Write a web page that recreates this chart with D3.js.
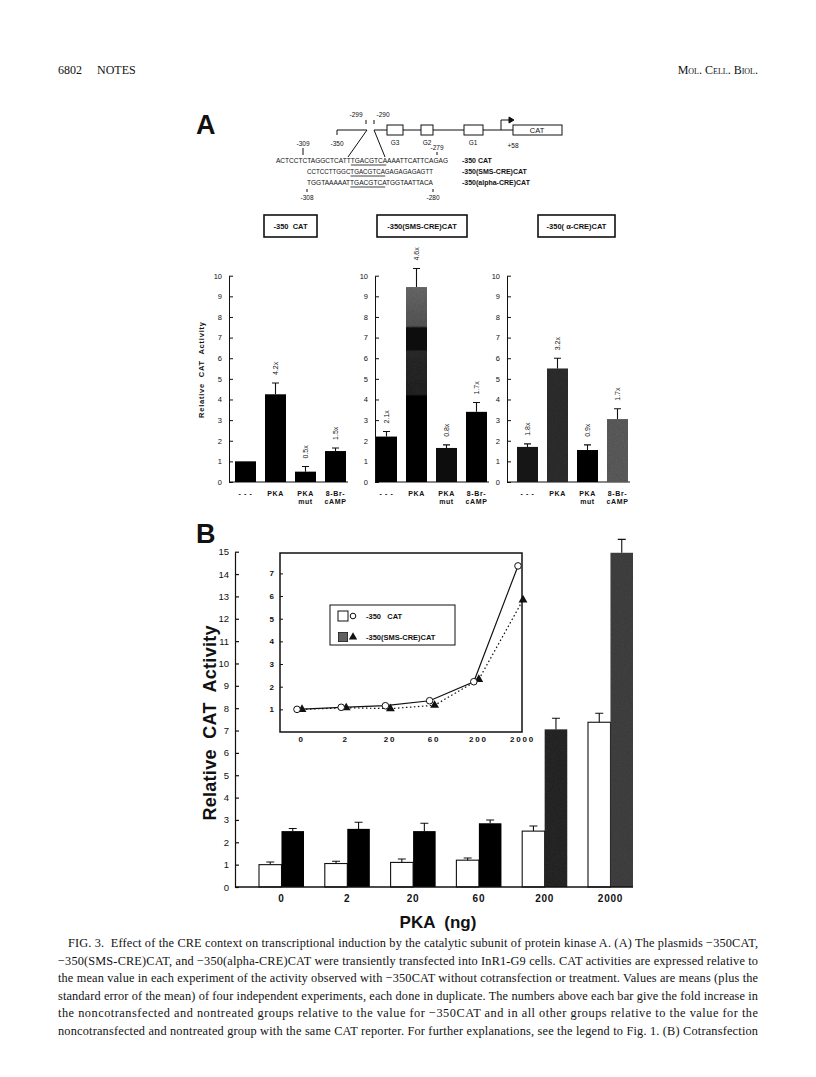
<!DOCTYPE html>
<html>
<head>
<meta charset="utf-8">
<script src="https://cdn.jsdelivr.net/npm/d3@7"></script>
<style>
body{margin:0;background:#fff}
text{font-family:"Liberation Sans",Arial,sans-serif;fill:#111}
</style>
</head>
<body>
<svg id="fig"></svg>
<script>
// ---- data ----
const aCategories = [["- - -"], ["PKA"], ["PKA", "mut"], ["8-Br-", "cAMP"]];
const a350Values = [1.0, 4.25, 0.5, 1.5];
const a350Errors = [null, 4.8, 0.75, 1.65];
const a350Folds = ["", "4.2x", "0.5x", "1.5x"];
const smsValues = [2.2, 9.45, 1.65, 3.4];
const smsErrors = [2.45, 10.35, 1.8, 3.85];
const smsFolds = ["2.1x", "4.6x", "0.8x", "1.7x"];
const alphaValues = [1.7, 5.5, 1.55, 3.05];
const alphaErrors = [1.85, 6.0, 1.8, 3.55];
const alphaFolds = ["1.8x", "3.2x", "0.9x", "1.7x"];
const aTicks = [0, 1, 2, 3, 4, 5, 6, 7, 8, 9, 10];

const pkaDoses = ["0", "2", "20", "60", "200", "2000"];
const catValues = [1.0, 1.05, 1.1, 1.2, 2.5, 7.37];
const catErrors = [1.12, 1.15, 1.25, 1.3, 2.73, 7.77];
const smsCatValues = [2.5, 2.6, 2.5, 2.85, 7.05, 14.95];
const smsCatErrors = [2.62, 2.9, 2.85, 3.0, 7.55, 15.55];
const bTicks = d3.range(0, 16);

const insetCat = [1.0, 1.09, 1.16, 1.38, 2.22, 7.33];
const insetSms = [1.0, 1.07, 1.03, 1.18, 2.32, 5.83];
const insetTicks = [1, 2, 3, 4, 5, 6, 7];

const captionLines = [
  "FIG. 3.  Effect of the CRE context on transcriptional induction by the catalytic subunit of protein kinase A. (A) The plasmids \u2212350CAT,",
  "\u2212350(SMS-CRE)CAT, and \u2212350(alpha-CRE)CAT were transiently transfected into InR1-G9 cells. CAT activities are expressed relative to",
  "the mean value in each experiment of the activity observed with \u2212350CAT without cotransfection or treatment. Values are means (plus the",
  "standard error of the mean) of four independent experiments, each done in duplicate. The numbers above each bar give the fold increase in",
  "the noncotransfected and nontreated groups relative to the value for \u2212350CAT and in all other groups relative to the value for the",
  "noncotransfected and nontreated group with the same CAT reporter. For further explanations, see the legend to Fig. 1. (B) Cotransfection"
];

const w = 816, h = 1077;
const svg = d3.select("#fig").attr("width", w).attr("height", h);
svg.append("rect").attr("width", w).attr("height", h).attr("fill", "#fff");

const defs = svg.append("defs");
const grad = defs.append("linearGradient").attr("id", "smsGrad")
  .attr("x1", 0).attr("y1", 0).attr("x2", 0).attr("y2", 1);
grad.append("stop").attr("offset", "0").attr("stop-color", "#6e6e6e");
grad.append("stop").attr("offset", "0.2").attr("stop-color", "#5a5a5a");
grad.append("stop").attr("offset", "0.21").attr("stop-color", "#161616");
grad.append("stop").attr("offset", "0.32").attr("stop-color", "#161616");
grad.append("stop").attr("offset", "0.33").attr("stop-color", "#2e2e2e");
grad.append("stop").attr("offset", "0.55").attr("stop-color", "#262626");
grad.append("stop").attr("offset", "0.56").attr("stop-color", "#111");
grad.append("stop").attr("offset", "1").attr("stop-color", "#111");

// scan-like grain for the gray bars
const grain = defs.append("filter").attr("id", "grain").attr("x", 0).attr("y", 0)
  .attr("width", 1).attr("height", 1);
grain.append("feTurbulence").attr("type", "fractalNoise").attr("baseFrequency", 0.9)
  .attr("numOctaves", 2).attr("result", "noise");
grain.append("feColorMatrix").attr("in", "noise").attr("type", "matrix")
  .attr("values", "0 0 0 0 0  0 0 0 0 0  0 0 0 0 0  0 0 0 0.35 0").attr("result", "dots");
grain.append("feComposite").attr("in", "dots").attr("in2", "SourceGraphic").attr("operator", "in").attr("result", "clipped");
const merge = grain.append("feMerge");
merge.append("feMergeNode").attr("in", "SourceGraphic");
merge.append("feMergeNode").attr("in", "clipped");

// ---- page header ----
svg.append("text").attr("x", 58).attr("y", 74)
  .style("font-family", "Liberation Serif").attr("font-size", 12).text("6802");
svg.append("text").attr("x", 97).attr("y", 74)
  .style("font-family", "Liberation Serif").attr("font-size", 12).text("NOTES");
svg.append("text").attr("x", 758).attr("y", 74).attr("text-anchor", "end")
  .style("font-family", "Liberation Serif").style("font-variant", "small-caps")
  .attr("font-size", 12).text("Mol. Cell. Biol.");

// ---- panel A: promoter schematic ----
svg.append("text").attr("x", 196).attr("y", 134).attr("font-size", 27)
  .attr("font-weight", "bold").text("A");

const g = svg.append("g").attr("stroke", "#111").attr("fill", "none").attr("stroke-width", 1);
g.append("path").attr("d", "M337,135 V130 H367");
g.append("path").attr("d", "M374,130 H513");
g.append("path").attr("d", "M367,130 L348,157 M374,130 L385,157");
g.append("path").attr("d", "M366,120 V124 M374,120 V124");
[[387, 403], [421, 433], [464, 483]].forEach(b => {
  g.append("rect").attr("x", b[0]).attr("y", 125).attr("width", b[1] - b[0]).attr("height", 10).attr("fill", "#fff");
});
g.append("rect").attr("x", 513).attr("y", 125).attr("width", 49).attr("height", 10).attr("fill", "#fff");
g.append("path").attr("d", "M501,130 V120 H509");
g.append("path").attr("d", "M509,117 L514,120 L509,123 Z").attr("fill", "#111");
g.append("path").attr("d", "M303,148 V155 M437,152 V155 M307,189 V192 M433,189 V192");

const small = [["-299", 356, 117], ["-290", 383, 117], ["G3", 395, 145], ["G2", 427, 145],
  ["G1", 473, 145], ["+58", 513, 148], ["-309", 303, 146], ["-350", 337, 146], ["-279", 437, 150],
  ["-308", 307, 200], ["-280", 433, 200], ["CAT", 537, 133]];
small.forEach(s => {
  svg.append("text").attr("x", s[1]).attr("y", s[2]).attr("text-anchor", "middle")
    .attr("font-size", s[0] === "CAT" ? 7.5 : 6.5).text(s[0]);
});

function seqLine(str, x, y, len, motif) {
  svg.append("text").attr("x", x).attr("y", y).attr("font-size", 7.2)
    .attr("textLength", len).attr("lengthAdjust", "spacingAndGlyphs").text(str);
  const cw = len / str.length;
  svg.append("line").attr("x1", x + motif * cw).attr("x2", x + (motif + 8) * cw)
    .attr("y1", y + 2).attr("y2", y + 2).attr("stroke", "#111").attr("stroke-width", 0.8);
}
seqLine("ACTCCTCTAGGCTCATTTGACGTCAAAATTCATTCAGAG", 276, 163, 172, 17);
seqLine("CCTCCTTGGCTGACGTCAGAGAGAGAGTT", 307, 174, 126, 10);
seqLine("TGGTAAAAATTGACGTCATGGTAATTACA", 307, 185, 126, 10);
["-350 CAT", "-350(SMS-CRE)CAT", "-350(alpha-CRE)CAT"].forEach((t, i) => {
  svg.append("text").attr("x", 462).attr("y", 163 + i * 11).attr("font-size", 7)
    .attr("font-weight", "bold").text(t);
});

// construct boxes
[["-350  CAT", 264, 317], ["-350(SMS-CRE)CAT", 377, 467], ["-350( \u03b1-CRE)CAT", 538, 615]].forEach(b => {
  svg.append("rect").attr("x", b[1]).attr("y", 215).attr("width", b[2] - b[1]).attr("height", 22)
    .attr("fill", "#fff").attr("stroke", "#111").attr("stroke-width", 1.6);
  svg.append("text").attr("x", (b[1] + b[2]) / 2).attr("y", 229).attr("text-anchor", "middle")
    .attr("font-size", 7.5).attr("font-weight", "bold").style("white-space", "pre").text(b[0]);
});

// ---- panel A: bar charts ----
const yA = d3.scaleLinear().domain([0, 10]).range([482, 275.7]);

function drawPanelA(axisX, bandStart, values, errors, folds, fills) {
  const x = d3.scaleBand().domain(d3.range(values.length))
    .range([bandStart, bandStart + 111]).paddingInner(0.3).paddingOuter(0);
  const chart = svg.append("g");
  const yAxis = d3.axisLeft(yA).tickValues(aTicks).tickSize(-4).tickSizeOuter(0).tickPadding(7);
  chart.append("g").attr("transform", `translate(${axisX},0)`).call(yAxis)
    .call(a => a.selectAll("text").attr("font-size", 7.5).style("font-family", "Liberation Sans"))
    .call(a => a.selectAll("line,path").attr("stroke", "#111"));
  chart.append("line").attr("x1", axisX).attr("x2", bandStart + 113)
    .attr("y1", yA(0)).attr("y2", yA(0)).attr("stroke", "#111").attr("stroke-width", 1.2);

  chart.selectAll("rect.bar").data(values).enter().append("rect").attr("class", "bar")
    .attr("x", (d, i) => x(i)).attr("width", x.bandwidth())
    .attr("y", d => yA(d)).attr("height", d => yA(0) - yA(d))
    .attr("fill", (d, i) => fills[i]).attr("filter", "url(#grain)");

  errors.forEach((e, i) => {
    if (e == null) return;
    const cx = x(i) + x.bandwidth() / 2;
    chart.append("path").attr("d", `M${cx},${yA(values[i])} V${yA(e)} M${cx - 3.5},${yA(e)} H${cx + 3.5}`)
      .attr("stroke", "#111").attr("stroke-width", 1.1).attr("fill", "none");
  });
  folds.forEach((f, i) => {
    if (!f) return;
    const cx = x(i) + x.bandwidth() / 2;
    const top = yA(errors[i] == null ? values[i] : errors[i]);
    chart.append("text").attr("transform", `translate(${cx + 2.5},${top - 8}) rotate(-90)`)
      .attr("font-size", 7).text(f);
  });
  aCategories.forEach((lines, i) => {
    const cx = x(i) + x.bandwidth() / 2;
    lines.forEach((t, k) => {
      chart.append("text").attr("x", cx).attr("y", 496 + k * 8).attr("text-anchor", "middle")
        .attr("font-size", 7).attr("font-weight", "bold").attr("letter-spacing", 0.6).text(t);
    });
  });
}

drawPanelA(229, 235, a350Values, a350Errors, a350Folds, ["#0d0d0d", "#0d0d0d", "#0d0d0d", "#0d0d0d"]);
drawPanelA(375, 376, smsValues, smsErrors, smsFolds, ["#0d0d0d", "url(#smsGrad)", "#141414", "#0d0d0d"]);
drawPanelA(507, 517, alphaValues, alphaErrors, alphaFolds, ["#1c1c1c", "#303030", "#111", "#606060"]);

svg.append("text").attr("transform", "translate(204,370) rotate(-90)").attr("text-anchor", "middle")
  .attr("font-size", 7.5).attr("font-weight", "bold").attr("textLength", 96)
  .style("white-space", "pre").text("Relative  CAT  Activity");

// ---- panel B ----
svg.append("text").attr("x", 196).attr("y", 543).attr("font-size", 27)
  .attr("font-weight", "bold").text("B");

const yB = d3.scaleLinear().domain([0, 15]).range([887, 551.7]);
const xB = d3.scaleBand().domain(pkaDoses).range([259, 633]).paddingInner(0.316).paddingOuter(0);
const xSeries = d3.scaleBand().domain(["cat", "sms"]).range([0, xB.bandwidth()]);

const bAxis = svg.append("g").attr("transform", "translate(235,0)")
  .call(d3.axisLeft(yB).tickValues(bTicks).tickSize(-4).tickSizeOuter(0).tickPadding(6));
bAxis.selectAll("text").attr("font-size", 9.5);
bAxis.selectAll("line,path").attr("stroke", "#111").attr("stroke-width", 1.2);

const smsFills = ["#0d0d0d", "#0d0d0d", "#0d0d0d", "#0f0f0f", "#2a2a2a", "#454545"];

const groups = svg.selectAll("g.dose").data(pkaDoses).enter().append("g").attr("class", "dose")
  .attr("transform", d => `translate(${xB(d)},0)`);
groups.append("rect")
  .attr("x", xSeries("cat")).attr("width", xSeries.bandwidth())
  .attr("y", (d, i) => yB(catValues[i])).attr("height", (d, i) => yB(0) - yB(catValues[i]))
  .attr("fill", "#fff").attr("stroke", "#111").attr("stroke-width", 1.1);
groups.append("rect")
  .attr("x", xSeries("sms")).attr("width", xSeries.bandwidth())
  .attr("y", (d, i) => yB(smsCatValues[i])).attr("height", (d, i) => yB(0) - yB(smsCatValues[i]))
  .attr("fill", (d, i) => smsFills[i]).attr("filter", "url(#grain)");
groups.append("path").attr("fill", "none").attr("stroke", "#111").attr("stroke-width", 1.1)
  .attr("d", (d, i) => {
    const cx = xSeries("cat") + xSeries.bandwidth() / 2;
    return `M${cx},${yB(catValues[i])} V${yB(catErrors[i])} M${cx - 4},${yB(catErrors[i])} H${cx + 4}`;
  });
groups.append("path").attr("fill", "none").attr("stroke", "#111").attr("stroke-width", 1.1)
  .attr("d", (d, i) => {
    const cx = xSeries("sms") + xSeries.bandwidth() / 2;
    return `M${cx},${yB(smsCatValues[i])} V${yB(smsCatErrors[i])} M${cx - 4},${yB(smsCatErrors[i])} H${cx + 4}`;
  });

const xAxisB = svg.append("g").attr("transform", `translate(0,${yB(0)})`)
  .call(d3.axisBottom(xB).tickSize(0).tickPadding(8));
xAxisB.select(".domain").remove();
xAxisB.selectAll("text").attr("font-size", 10).attr("font-weight", "bold").attr("letter-spacing", 0.8);
svg.append("line").attr("x1", 235).attr("x2", 633).attr("y1", yB(0)).attr("y2", yB(0))
  .attr("stroke", "#111").attr("stroke-width", 1.3);

svg.append("text").attr("transform", "translate(216,723) rotate(-90)").attr("text-anchor", "middle")
  .attr("font-size", 18).attr("font-weight", "bold").attr("textLength", 195)
  .style("white-space", "pre").text("Relative  CAT  Activity");
svg.append("text").attr("x", 438).attr("y", 928).attr("text-anchor", "middle")
  .attr("font-size", 17).attr("font-weight", "bold").style("white-space", "pre").text("PKA  (ng)");

// ---- inset line chart ----
const yIn = d3.scaleLinear().domain([0, 7.9]).range([732, 553]);
const xIn = d3.scalePoint().domain(pkaDoses).range([301, 522]);
svg.append("rect").attr("x", 280).attr("y", 553).attr("width", 242).attr("height", 179)
  .attr("fill", "#fff").attr("stroke", "#111").attr("stroke-width", 1.5);
const inAxis = svg.append("g").attr("transform", "translate(280,0)")
  .call(d3.axisLeft(yIn).tickValues(insetTicks).tickSize(-3).tickSizeOuter(0).tickPadding(6));
inAxis.select(".domain").remove();
inAxis.selectAll("text").attr("font-size", 8).attr("font-weight", "bold");
inAxis.selectAll("line").attr("stroke", "#111");
const inX = svg.append("g").attr("transform", "translate(0,732)")
  .call(d3.axisBottom(xIn).tickSize(0).tickPadding(4));
inX.select(".domain").remove();
inX.selectAll("text").attr("font-size", 8).attr("font-weight", "bold").attr("letter-spacing", 1.8);

const lineCat = d3.line().x((d, i) => xIn(pkaDoses[i]) - 4).y(d => yIn(d));
const lineSms = d3.line().x((d, i) => xIn(pkaDoses[i]) + 1).y(d => yIn(d));
svg.append("path").attr("d", lineSms(insetSms)).attr("fill", "none").attr("stroke", "#111")
  .attr("stroke-width", 1.2).attr("stroke-dasharray", "1.5,2.5");
svg.append("path").attr("d", lineCat(insetCat)).attr("fill", "none").attr("stroke", "#111")
  .attr("stroke-width", 1.2);
svg.selectAll("path.tri").data(insetSms).enter().append("path").attr("class", "tri")
  .attr("d", d3.symbol().type(d3.symbolTriangle).size(34))
  .attr("transform", (d, i) => `translate(${xIn(pkaDoses[i]) + 1},${yIn(d)})`).attr("fill", "#111");
svg.selectAll("circle.cat").data(insetCat).enter().append("circle").attr("class", "cat")
  .attr("cx", (d, i) => xIn(pkaDoses[i]) - 4).attr("cy", d => yIn(d)).attr("r", 3.3)
  .attr("fill", "#fff").attr("stroke", "#111").attr("stroke-width", 1);

// legend
const lg = svg.append("g");
lg.append("rect").attr("x", 330).attr("y", 605).attr("width", 125).attr("height", 40)
  .attr("fill", "#fff").attr("stroke", "#111").attr("stroke-width", 1);
lg.append("rect").attr("x", 338).attr("y", 611).attr("width", 10).attr("height", 10)
  .attr("fill", "#fff").attr("stroke", "#111");
lg.append("circle").attr("cx", 353).attr("cy", 616).attr("r", 2.8).attr("fill", "#fff").attr("stroke", "#111");
lg.append("text").attr("x", 366).attr("y", 619).attr("font-size", 7.5).attr("font-weight", "bold")
  .style("white-space", "pre").text("-350   CAT");
lg.append("rect").attr("x", 338).attr("y", 632).attr("width", 10).attr("height", 10)
  .attr("fill", "#6a6a6a").attr("stroke", "#111").attr("filter", "url(#grain)");
lg.append("path").attr("d", d3.symbol().type(d3.symbolTriangle).size(30))
  .attr("transform", "translate(353,637)").attr("fill", "#111");
lg.append("text").attr("x", 366).attr("y", 640).attr("font-size", 7.5).attr("font-weight", "bold")
  .text("-350(SMS-CRE)CAT");

// ---- caption ----
captionLines.forEach((t, i) => {
  const x0 = i === 0 ? 68 : 58;
  svg.append("text").attr("x", x0).attr("y", 947 + i * 17.5)
    .style("font-family", "Liberation Serif").attr("font-size", 12.3)
    .attr("textLength", 758 - x0).attr("lengthAdjust", "spacing")
    .style("white-space", "pre").text(t);
});
</script>
</body>
</html>
